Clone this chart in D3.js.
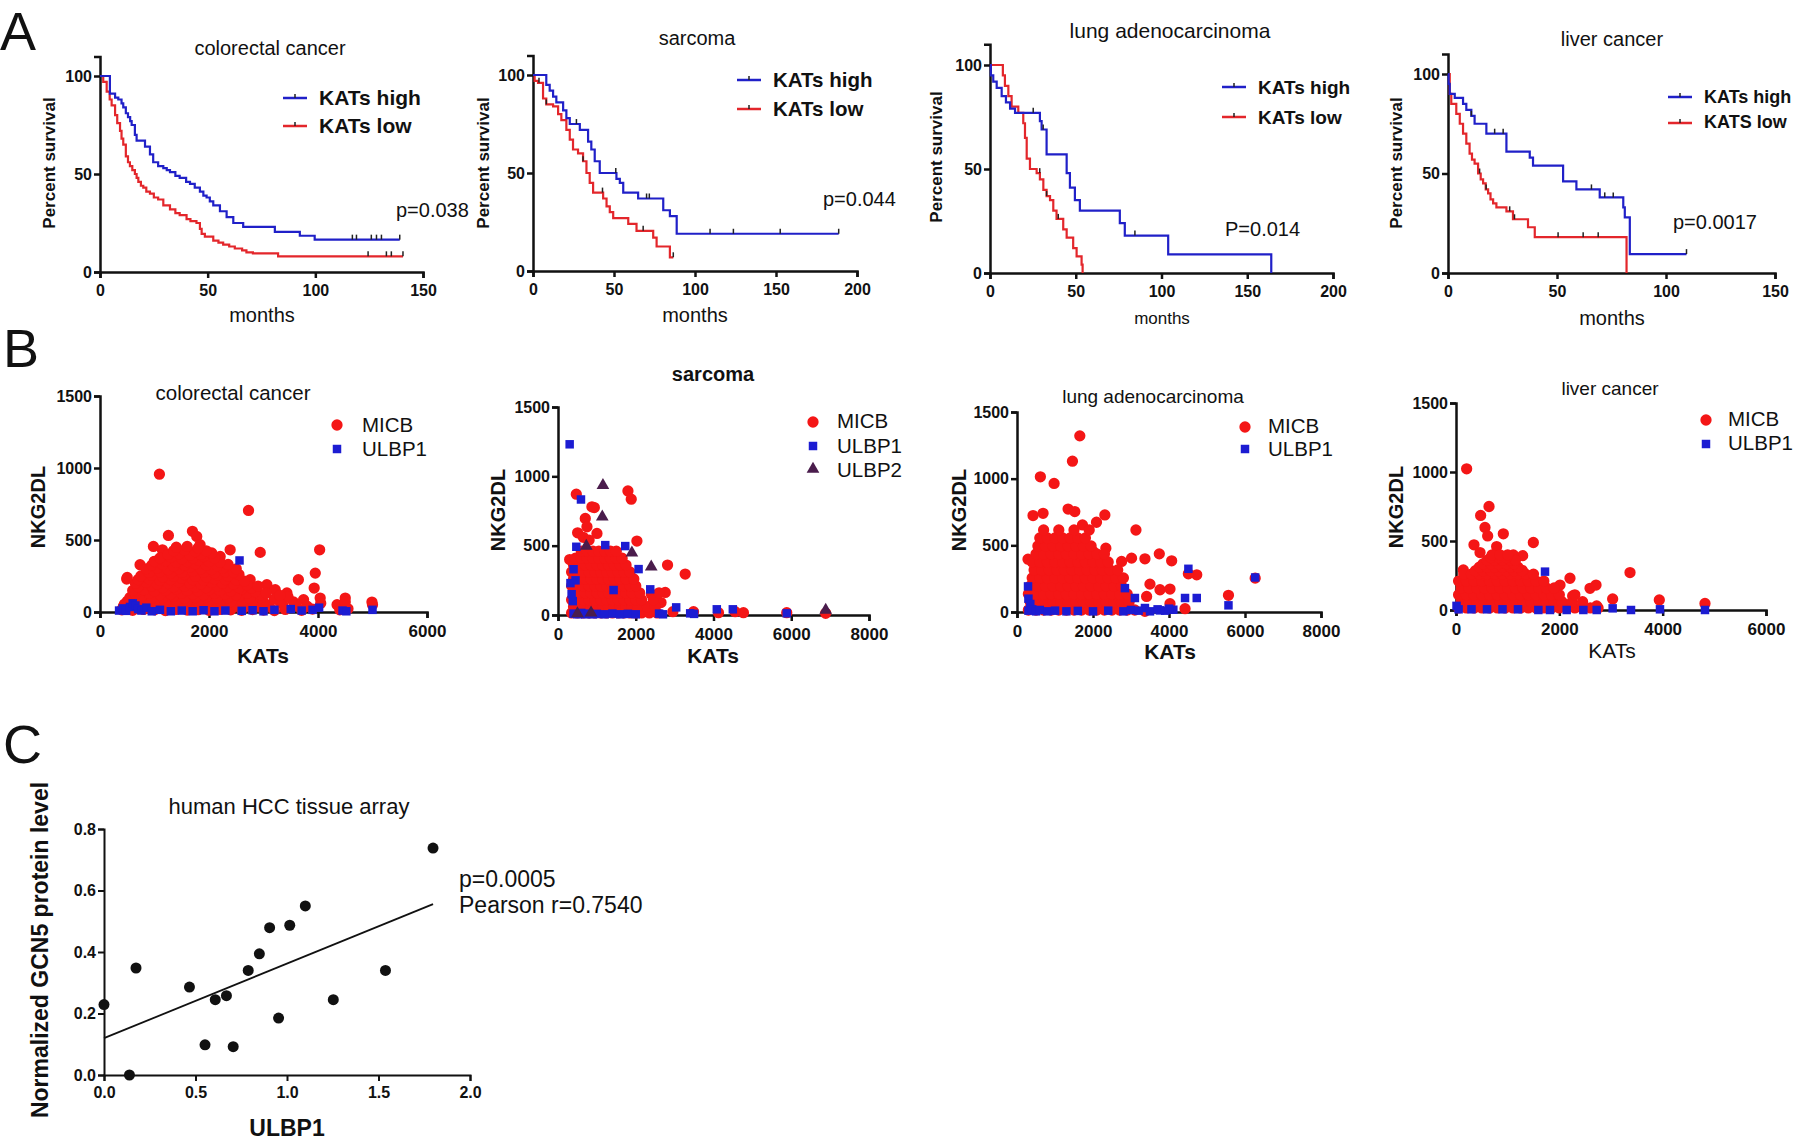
<!DOCTYPE html>
<html><head><meta charset="utf-8">
<script src="https://cdn.jsdelivr.net/npm/d3@7"></script>
<style>
body{margin:0;background:#fff;}
svg{display:block;}
</style></head><body>
<svg id="fig" width="1800" height="1143"></svg>
<script>
// ================= DATA =================
// Panel A: Kaplan-Meier curves, [months, percent survival after step]
const kmTitles = ["colorectal cancer","sarcoma","lung adenocarcinoma","liver cancer"];
const kmLegendLabels = [["KATs high","KATs low"],["KATs high","KATs low"],["KATs high","KATs low"],["KATs high","KATS low"]];
const kmPvalues = ["p=0.038","p=0.044","P=0.014","p=0.0017"];
const kmXTicks = [[0,50,100,150],[0,50,100,150,200],[0,50,100,150,200],[0,50,100,150]];
const kmYTicks = [0,50,100];

const crcHigh = [[0,100],[4.6,91],[7,89],[8.5,88],[10,86],[10.8,84],[12,81],[13,79],[14,77],[14.7,75],[16.2,70],[17,67],[20.9,64],[23.2,60],[24.7,56],[27,54],[29.4,53],[31,52],[32.5,51],[35,49],[37,48],[40,46],[41.8,45],[44,43],[46.4,41],[48,39],[49.5,38],[51,36],[52.6,34],[55.7,31],[58.8,28],[61.9,25],[66.5,23],[81.2,20.5],[92.8,18.5],[99.7,16.5],[139.2,16.5]];
const crcLow = [[0,100],[1.5,97],[3.1,92],[4.5,88],[5.4,85],[7,80],[8,76],[9.3,72],[10,68],[10.8,65],[12,59],[13,56],[13.9,54],[15,52],[16.2,50],[17,48],[17.8,46],[19,44],[20.1,43],[21.5,41],[23.2,40],[25,38],[27,37],[29.4,34],[32.5,32],[35,30],[37,29],[40.2,27],[42,26],[44.8,25],[46.4,22],[47.2,19.5],[48.7,18],[52.6,16],[55,15],[57.2,14],[60,13],[62.6,12],[66,11],[68,10],[71,9.5],[82.7,8],[140.7,8]];
const crcHighCens = [117.2,119.1,126,128.4,130.7,139.2];
const crcLowCens = [124.5,133,135.3,140.7];

const sarHigh = [[0,100],[8.2,95],[10.3,92],[12.4,89],[14.4,86],[18.6,82],[20.6,78],[22.7,75],[28.9,72],[34,66],[36,62],[38.1,56],[41.2,50],[51.5,47],[53.6,45],[55.7,40],[64.9,37],[80.4,31],[84.5,28],[88.7,19],[188.7,19]];
const sarLow = [[0,100],[1,97],[3.1,96],[6.2,88],[8.2,85],[12.4,84],[15.5,80],[17.5,77],[20.6,72],[22.7,67],[24.7,62],[27.8,60],[30.9,56],[33,50],[35,45],[37.1,40],[43.3,37],[45.4,33],[47.4,30],[49.5,27],[58.8,24],[63.9,20.5],[74.2,17],[76.3,12.5],[84.5,7],[86.6,7]];
const sarHighCens = [26.8,51.1,70.1,71.8,109.3,123.7,152.6,188.7];
const sarLowCens = [3.7,8.2,30.9,42.9,68,86.6];

const luadHigh = [[0,100],[0.5,95],[1.9,92],[3.9,89],[6.8,85],[9.3,82],[11.7,79],[14.6,77],[29.1,73],[30.1,69],[33,57],[44.7,48],[46.6,41],[49.5,35],[52.4,30],[75.7,24],[78.6,18],[103.9,9],[164,0]];
const luadLow = [[0,100],[7.5,95],[8.7,90],[10.7,85],[12.6,80],[16.5,77],[19.4,72],[20.4,65],[21.4,55],[23.3,50],[27.2,48],[29.1,45],[31.1,40],[33,37],[35,35],[36.9,30],[38.8,26],[42.7,21],[44.7,17],[48.5,12],[50.5,8],[53.4,4],[54,0]];
const luadHighCens = [25.2,31,84.5];
const luadLowCens = [29,33,39.8];

const livHigh = [[0,100],[0.3,95],[0.8,90],[3.1,88],[6.9,85],[8.4,82],[10.7,79],[12.2,75],[17.6,70],[26.8,61],[37.5,58],[39,54],[52.8,46],[58.9,42],[69.6,38],[80.4,33],[81.1,28],[83.4,9.5],[109.4,9.5]];
const livLow = [[0,100],[0.8,90],[1.5,85],[3.8,80],[5.4,75],[6.9,70],[8.4,65],[9.9,60],[11,57],[12.2,55],[13.8,50],[15,47],[16.1,45],[17.3,42],[18.4,40],[19.5,37],[20.7,35],[22.2,33],[26.8,31],[29.8,27],[36.7,23],[39.8,18],[81.9,0]];
const livHighCens = [10.7,21.4,25.3,65.8,71.9,75.8,109.4];
const livLowCens = [14.5,17.5,28.3,30.5,50.5,62,68.9];

// Panel B: scatter, [KATs, NKG2DL]
const scTitles = ["colorectal cancer","sarcoma","lung adenocarcinoma","liver cancer"];
const scXTicks = [[0,2000,4000,6000],[0,2000,4000,6000,8000],[0,2000,4000,6000,8000],[0,2000,4000,6000]];
const scYTicks = [0,500,1000,1500];
const scLegend = [["MICB","ULBP1"],["MICB","ULBP1","ULBP2"],["MICB","ULBP1"],["MICB","ULBP1"]];

const crcMICB = [[1090,957],[2725,705],[4030,432],[2940,414],[3640,224],[3950,270],[3930,166],[1255,532],[1696,560],[1775,525],[1837,467],[980,455],[1145,432],[995,351],[735,328],[490,229],[2388,432],[2205,386],[2755,224],[3062,190],[3215,155],[3430,132],[4040,97],[4500,97],[4350,51],[4990,69],[430,40],[3735,86],
[400,15],[600,12],[800,18],[1000,15],[1200,10],[1400,18],[1600,14],[1800,16],[2000,12],[2200,18],[2400,15],[2600,12],[2800,17],[3000,14],[3200,10],[3400,18],[3700,12],[3900,20],[4400,15],[4550,22],
[450,55],[700,48],[900,52],[1100,50],[1300,45],[1500,55],[1700,50],[1900,48],[2100,55],[2300,50],[2500,45],[2700,52],[2900,50],[3100,48],[3350,55],[3600,45],[3800,40],[4050,60],[4500,70],[5000,50],
[500,75],[800,78],[1000,72],[1200,75],[1400,80],[1600,75],[1800,72],[2000,78],[2200,75],[2400,72],[2600,78],[2800,75],[3000,70],[3300,72],[3550,70],
[550,100],[750,105],[950,95],[1150,100],[1350,110],[1550,95],[1750,100],[1950,105],[2150,95],[2350,100],[2550,110],[2750,95],[2950,100],[3200,90],[3450,105],
[650,125],[900,130],[1100,120],[1300,125],[1500,130],[1700,125],[1900,120],[2100,130],[2300,125],[2500,120],[2700,130],[2950,120],[3300,115],
[600,150],[800,155],[1000,145],[1200,150],[1400,160],[1600,150],[1800,145],[2000,155],[2200,150],[2400,145],[2600,160],[2850,140],[3050,130],
[700,175],[950,180],[1150,170],[1350,175],[1550,180],[1750,175],[1950,170],[2150,180],[2350,175],[2550,170],[2780,165],
[650,200],[850,205],[1050,195],[1250,200],[1450,210],[1650,200],[1850,195],[2050,205],[2250,200],[2450,195],[2700,190],[2900,180],
[700,225],[900,230],[1100,220],[1300,225],[1500,235],[1700,225],[1900,220],[2100,230],[2300,225],[2500,220],[2650,215],
[500,240],[750,250],[950,255],[1150,245],[1350,250],[1550,260],[1750,250],[1950,245],[2150,255],[2350,250],[2550,260],
[900,275],[1100,280],[1300,270],[1500,275],[1700,285],[1900,275],[2100,270],[2300,280],[2450,275],
[850,300],[1050,305],[1250,295],[1450,300],[1650,310],[1850,300],[2050,295],[2250,305],[2500,300],
[950,325],[1150,330],[1350,320],[1550,325],[1750,335],[1950,325],[2150,320],[2350,330],
[1000,350],[1200,355],[1400,345],[1600,350],[1800,360],[2000,350],[2200,345],
[1100,375],[1300,380],[1500,370],[1700,375],[1900,385],[2100,375],
[1250,400],[1450,405],[1650,395],[1850,400],[2050,410],
[1350,425],[1550,430],[1750,420],[1950,425],
[1400,450],[1600,455],[1800,445]];
const crcULBP1 = [[350,10],[420,25],[480,8],[550,35],[600,60],[650,45],[700,20],[760,10],[850,30],[950,5],[1100,15],[1300,5],[1500,10],[1700,5],[1900,12],[2100,5],[2300,10],[2560,358],[2600,8],[2800,12],[3000,5],[3200,15],[3500,20],[3700,10],[3900,15],[4020,30],[4450,10],[4520,5],[5000,15]];

const sarMICB = [[471,871],[934,775],[873,780],[1799,895],[1884,835],[505,593],[2030,533],[2818,360],[3272,295],[2758,163],[702,696],[745,636],[1002,588],[300,400],[4128,17],[4770,17],[5884,17],[6886,12],[3486,24],[4557,24],[2955,24],[2500,120],[2650,90],[2400,150],[650,560],[800,540],
[350,15],[500,15],[650,15],[800,15],[950,15],[1100,15],[1250,15],[1400,15],[1550,15],[1700,15],[1850,15],[2000,15],[2150,15],[2350,15],[2550,15],
[400,60],[550,60],[700,60],[850,60],[1000,60],[1150,60],[1300,60],[1450,60],[1600,60],[1750,60],[1900,60],[2050,60],[2300,60],[2500,60],
[350,110],[500,110],[650,110],[800,110],[950,110],[1100,110],[1250,110],[1400,110],[1550,110],[1700,110],[1850,110],[2000,110],[2150,110],[2450,110],
[400,160],[550,160],[700,160],[850,160],[1000,160],[1150,160],[1300,160],[1450,160],[1600,160],[1750,160],[1900,160],[2100,160],[2600,160],
[350,210],[500,210],[650,210],[800,210],[950,210],[1100,210],[1250,210],[1400,210],[1550,210],[1700,210],[1850,210],[2000,210],
[400,260],[550,260],[700,260],[850,260],[1000,260],[1150,260],[1300,260],[1450,260],[1600,260],[1750,260],[1950,260],
[350,310],[500,310],[650,310],[800,310],[950,310],[1100,310],[1250,310],[1400,310],[1550,310],[1700,310],[1850,310],
[400,360],[550,360],[700,360],[850,360],[1000,360],[1150,360],[1300,360],[1450,360],[1600,360],[1750,360],
[450,410],[600,410],[750,410],[900,410],[1050,410],[1200,410],[1350,410],[1500,410],[1650,410],
[600,460],[750,460],[900,460],[1050,460],[1200,460],[1350,460],[1500,460]];
const sarULBP1 = [[300,1231],[591,833],[471,492],[1730,497],[2073,331],[2373,185],[3040,55],[4085,41],[4497,41],[5884,12],[3400,12],[1430,180],[1216,504],[320,230],[350,150],[400,330],[450,250],[380,100],[400,10],[500,5],[600,15],[700,5],[800,10],[900,5],[1000,8],[1200,5],[1400,10],[1600,5],[1800,8],[2000,5],[2600,10],[2700,5],[3500,8]];
const sarULBP2 = [[1156,935],[1139,708],[1901,449],[2398,348],[728,497],[6886,36],[500,10],[850,15]];

const luadMICB = [[1653,1321],[1459,1131],[615,1014],[976,964],[2312,728],[2092,673],[3130,615],[1345,772],[1521,753],[422,723],[686,740],[1723,653],[3745,436],[4070,384],[3367,399],[2004,454],[2338,478],[2752,379],[3015,404],[3499,209],[3763,167],[4026,172],[3411,117],[4730,279],[4510,287],[5565,125],[6268,254],[4422,25],[4026,62],[3367,5],[290,396],
[300,15],[500,15],[700,15],[900,15],[1100,15],[1300,15],[1500,15],[1700,15],[1900,15],[2100,15],[2300,15],[2500,15],[2700,15],[2900,15],[3100,15],
[350,75],[550,75],[750,75],[950,75],[1150,75],[1350,75],[1550,75],[1750,75],[1950,75],[2150,75],[2350,75],[2550,75],[2750,75],[2950,75],
[300,135],[500,135],[700,135],[900,135],[1100,135],[1300,135],[1500,135],[1700,135],[1900,135],[2100,135],[2300,135],[2500,135],[2700,135],[2900,135],
[350,195],[550,195],[750,195],[950,195],[1150,195],[1350,195],[1550,195],[1750,195],[1950,195],[2150,195],[2350,195],[2550,195],[2750,195],
[400,255],[600,255],[800,255],[1000,255],[1200,255],[1400,255],[1600,255],[1800,255],[2000,255],[2200,255],[2400,255],[2600,255],[2800,255],
[450,315],[650,315],[850,315],[1050,315],[1250,315],[1450,315],[1650,315],[1850,315],[2050,315],[2250,315],[2450,315],[2650,315],
[400,375],[600,375],[800,375],[1000,375],[1200,375],[1400,375],[1600,375],[1800,375],[2000,375],[2200,375],[2400,375],
[500,435],[700,435],[900,435],[1100,435],[1300,435],[1500,435],[1700,435],[1900,435],[2100,435],[2300,435],
[550,495],[750,495],[950,495],[1150,495],[1350,495],[1550,495],[1750,495],[1950,495],
[600,555],[800,555],[1000,555],[1200,555],[1400,555],[1600,555],[1800,555],
[700,615],[1100,615],[1500,615],[1900,615]];
const luadULBP1 = [[4510,324],[4422,105],[4730,105],[5565,50],[6268,259],[2840,179],[3103,105],[290,192],[3763,12],[4114,17],[3367,30],[300,100],[350,60],[300,10],[400,20],[500,5],[600,15],[800,5],[1000,10],[1300,5],[1600,8],[2000,5],[2400,10],[2800,5],[3000,15],[3200,10],[3500,5],[3700,20],[3900,10],[4000,25]];

const livMICB = [[206,1023],[639,750],[477,685],[561,598],[613,537],[916,552],[348,472],[465,416],[787,460],[1497,489],[1290,394],[1110,399],[1284,286],[2206,230],[3368,271],[2258,102],[2594,157],[2710,181],[2723,29],[3032,80],[3935,73],[4819,48],[142,290],[2013,181],[1884,121],
[50,15],[200,15],[350,15],[500,15],[650,15],[800,15],[950,15],[1100,15],[1250,15],[1400,15],[1550,15],[1700,15],[1850,15],[2000,15],[2150,15],[2300,15],[2450,15],[2600,15],[2750,15],
[100,60],[250,60],[400,60],[550,60],[700,60],[850,60],[1000,60],[1150,60],[1300,60],[1450,60],[1600,60],[1750,60],[1900,60],[2050,60],[2250,60],[2450,60],
[50,110],[200,110],[350,110],[500,110],[650,110],[800,110],[950,110],[1100,110],[1250,110],[1400,110],[1550,110],[1700,110],[1850,110],[2000,110],[2300,110],
[100,160],[250,160],[400,160],[550,160],[700,160],[850,160],[1000,160],[1150,160],[1300,160],[1450,160],[1600,160],[1750,160],[1900,160],
[50,210],[200,210],[350,210],[500,210],[650,210],[800,210],[950,210],[1100,210],[1250,210],[1400,210],[1550,210],[1700,210],
[150,260],[300,260],[450,260],[600,260],[750,260],[900,260],[1050,260],[1200,260],[1350,260],[1500,260],
[375,285],[525,285],[675,285],[825,285],[975,285],[1125,285],[1275,285],
[450,310],[600,310],[750,310],[900,310],[1050,310],[1200,310],
[525,335],[675,335],[825,335],[975,335],[1125,335],
[600,360],[750,360],[900,360],[1050,360],[1150,360],
[675,380],[825,380],[975,380],
[700,400],[850,400],[1000,400]];
const livULBP1 = [[10,30],[50,5],[300,5],[600,5],[900,5],[1200,5],[1594,0],[1819,0],[2142,0],[2465,0],[2723,0],[3032,12],[3387,0],[3948,5],[4819,0],[1723,278]];

// Panel C
const cTitle = "human HCC tissue array";
const ulbp1Level = [0,0.139,0.175,0.467,0.552,0.608,0.669,0.706,0.788,0.849,0.905,0.954,1.015,1.100,1.253,1.538,1.798];
const gcn5Level = [0.229,0,0.348,0.286,0.098,0.245,0.258,0.092,0.340,0.394,0.479,0.185,0.487,0.550,0.245,0.340,0.738];
const cXTicks = [0,0.5,1.0,1.5,2.0];
const cYTicks = [0,0.2,0.4,0.6,0.8];
const cStats = ["p=0.0005","Pearson r=0.7540"];

// ================= DRAWING =================
const FONT = '"Liberation Sans", Arial, Helvetica, sans-serif';
const INK = "#111";
const KM_BLUE = "#2020c8", KM_RED = "#e3262b";
const SC_RED = "#f41616", SC_BLUE = "#1c1cd2", SC_PURPLE = "#4a1c4c";
const svg = d3.select("#fig").attr("font-family", FONT);

function txt(x, y, s, o = {}) {
  const t = svg.append("text").attr("x", x).attr("y", y).text(s)
    .attr("font-size", o.size || 16).attr("font-weight", o.bold ? "bold" : "normal")
    .attr("text-anchor", o.anchor || "start").attr("fill", INK);
  if (o.rotate) t.attr("transform", `rotate(-90,${x},${y})`);
  return t;
}
function styleAxis(g, sw, fs) {
  g.attr("font-family", FONT).attr("font-size", fs);
  g.selectAll("path.domain").attr("stroke", INK).attr("stroke-width", sw);
  g.selectAll(".tick line").attr("stroke", INK).attr("stroke-width", sw);
  g.selectAll(".tick text").attr("font-weight", "bold").attr("fill", INK);
}
const intFmt = d3.format("d");

// panel letters
txt(0, 50, "A", {size: 54});
txt(3, 367, "B", {size: 54});
txt(3, 763, "C", {size: 54});

// ---- Panel A ----
const kmLayout = [
 {x0:100,x1:423,y0:272,y100:76,xMax:150,tX:270,tY:55,tS:20,lX:283,lY:[98,126],lB:[105,133],lS:21,pX:396,pY:217,mX:262,mY:322,mS:20,yX:55,yY:163},
 {x0:533,x1:857,y0:271,y100:75,xMax:200,tX:697,tY:45,tS:20,lX:737,lY:[80,109],lB:[87,116],lS:20.5,pX:823,pY:206,mX:695,mY:322,mS:20,yX:489,yY:163},
 {x0:990,x1:1333,y0:273,y100:65,xMax:200,tX:1170,tY:38,tS:21,lX:1222,lY:[87,117],lB:[94,124],lS:19,pX:1225,pY:236,mX:1162,mY:324,mS:17,yX:942,yY:157},
 {x0:1448,x1:1775,y0:273,y100:74,xMax:150,tX:1612,tY:46,tS:20,lX:1668,lY:[97,123],lB:[103,128],lS:18,pX:1673,pY:229,mX:1612,mY:325,mS:20,yX:1402,yY:163}
];
const kmCurves = [
  [crcHigh, crcLow, crcHighCens, crcLowCens],
  [sarHigh, sarLow, sarHighCens, sarLowCens],
  [luadHigh, luadLow, luadHighCens, luadLowCens],
  [livHigh, livLow, livHighCens, livLowCens]
];

function survAt(curve, t) {
  let s = curve[0][1];
  for (const [ti, si] of curve) { if (ti <= t) s = si; else break; }
  return s;
}

kmLayout.forEach((L, i) => {
  const x = d3.scaleLinear().domain([0, L.xMax]).range([L.x0, L.x1]);
  const pxPer = (L.y0 - L.y100) / 100;
  const y = d3.scaleLinear().domain([0, 110]).range([L.y0, L.y0 - 110 * pxPer]);
  const gx = svg.append("g").attr("transform", `translate(0,${L.y0})`)
    .call(d3.axisBottom(x).tickValues(kmXTicks[i]).tickFormat(intFmt).tickSizeOuter(0).tickSize(6).tickPadding(7));
  styleAxis(gx, 2.5, 16);
  const gy = svg.append("g").attr("transform", `translate(${L.x0},0)`)
    .call(d3.axisLeft(y).tickValues(kmYTicks).tickFormat(intFmt).tickSizeOuter(0).tickSize(6).tickPadding(2));
  styleAxis(gy, 2.5, 16);

  const [hi, lo, hiC, loC] = kmCurves[i];
  const line = d3.line().x(d => x(d[0])).y(d => y(d[1])).curve(d3.curveStepAfter);
  [[lo, loC, KM_RED], [hi, hiC, KM_BLUE]].forEach(([c, cens, col]) => {
    svg.append("path").datum(c).attr("d", line).attr("fill", "none")
      .attr("stroke", col).attr("stroke-width", 2.2);
    svg.append("g").selectAll("line").data(cens).join("line")
      .attr("x1", d => x(d)).attr("x2", d => x(d))
      .attr("y1", d => y(survAt(c, d))).attr("y2", d => y(survAt(c, d)) - 5)
      .attr("stroke", "#222").attr("stroke-width", 1.5);
  });

  txt(L.tX, L.tY, kmTitles[i], {size: L.tS, anchor: "middle"});
  [KM_BLUE, KM_RED].forEach((col, k) => {
    svg.append("line").attr("x1", L.lX).attr("x2", L.lX + 24)
      .attr("y1", L.lY[k]).attr("y2", L.lY[k]).attr("stroke", col).attr("stroke-width", 2.5);
    svg.append("line").attr("x1", L.lX + 12).attr("x2", L.lX + 12)
      .attr("y1", L.lY[k]).attr("y2", L.lY[k] - 4).attr("stroke", "#222").attr("stroke-width", 1.5);
    txt(L.lX + 36, L.lB[k], kmLegendLabels[i][k], {size: L.lS, bold: true});
  });
  txt(L.pX, L.pY, kmPvalues[i], {size: 20});
  txt(L.mX, L.mY, "months", {size: L.mS, anchor: "middle"});
  txt(L.yX, L.yY, "Percent survival", {size: 17, bold: true, anchor: "middle", rotate: true});
});

// ---- Panel B ----
const scLayout = [
 {x0:100,x1:427,y0:612,yT:396,xMax:6000,tX:233,tY:400,tS:20.5,tB:false,mX:337,tx:362,ys:[425,449],bs:[432,456],kX:263,kY:663,kB:true,nX:45,nY:507},
 {x0:558,x1:869,y0:615,yT:407,xMax:8000,tX:713,tY:381,tS:20,tB:true,mX:813,tx:837,ys:[422,446,469],bs:[428,453,477],kX:713,kY:663,kB:true,nX:505,nY:510},
 {x0:1017,x1:1321,y0:612,yT:412,xMax:8000,tX:1153,tY:403,tS:19,tB:false,mX:1245,tx:1268,ys:[427,449],bs:[433,456],kX:1170,kY:659,kB:true,nX:966,nY:510},
 {x0:1456,x1:1766,y0:610,yT:403,xMax:6000,tX:1610,tY:395,tS:19,tB:false,mX:1706,tx:1728,ys:[420,444],bs:[426,450],kX:1612,kY:658,kB:false,nX:1403,nY:507}
];
const scSeries = [
  [crcMICB, crcULBP1],
  [sarMICB, sarULBP1, sarULBP2],
  [luadMICB, luadULBP1],
  [livMICB, livULBP1]
];
const markerDefs = [
  {type: d3.symbolCircle, size: 100, color: SC_RED},
  {type: d3.symbolSquare, size: 72, color: SC_BLUE},
  {type: d3.symbolTriangle, size: 70, color: SC_PURPLE}
];

scLayout.forEach((L, i) => {
  const x = d3.scaleLinear().domain([0, L.xMax]).range([L.x0, L.x1]);
  const y = d3.scaleLinear().domain([0, 1500]).range([L.y0, L.yT]);
  const gx = svg.append("g").attr("transform", `translate(0,${L.y0})`)
    .call(d3.axisBottom(x).tickValues(scXTicks[i]).tickFormat(intFmt).tickSizeOuter(0).tickSize(6).tickPadding(7));
  styleAxis(gx, 2.5, 17);
  const gy = svg.append("g").attr("transform", `translate(${L.x0},0)`)
    .call(d3.axisLeft(y).tickValues(scYTicks).tickFormat(intFmt).tickSizeOuter(0).tickSize(6).tickPadding(2));
  styleAxis(gy, 2.5, 16);

  scSeries[i].forEach((pts, k) => {
    const m = markerDefs[k];
    const sym = d3.symbol().type(m.type).size(m.size);
    svg.append("g").selectAll("path").data(pts).join("path")
      .attr("d", sym).attr("fill", m.color)
      .attr("transform", d => `translate(${x(d[0])},${y(d[1])})`);
    svg.append("path").attr("d", sym).attr("fill", m.color)
      .attr("transform", `translate(${L.mX},${L.ys[k]})`);
    txt(L.tx, L.bs[k], scLegend[i][k], {size: 20.5});
  });

  txt(L.tX, L.tY, scTitles[i], {size: L.tS, bold: L.tB, anchor: "middle"});
  txt(L.kX, L.kY, "KATs", {size: 21, bold: L.kB, anchor: "middle"});
  txt(L.nX, L.nY, "NKG2DL", {size: 20, bold: true, anchor: "middle", rotate: true});
});

// ---- Panel C ----
(function () {
  const x = d3.scaleLinear().domain([0, 2]).range([104, 470]);
  const y = d3.scaleLinear().domain([0, 0.8]).range([1075, 829]);
  const gx = svg.append("g").attr("transform", `translate(0,1075)`)
    .call(d3.axisBottom(x).tickValues(cXTicks).tickFormat(d3.format(".1f")).tickSizeOuter(0).tickSize(6).tickPadding(6));
  styleAxis(gx, 2, 16);
  const gy = svg.append("g").attr("transform", `translate(104,0)`)
    .call(d3.axisLeft(y).tickValues(cYTicks).tickFormat(d3.format(".1f")).tickSizeOuter(0).tickSize(6).tickPadding(2));
  styleAxis(gy, 2, 16);

  const mx = d3.mean(ulbp1Level), my = d3.mean(gcn5Level);
  let sxy = 0, sxx = 0;
  ulbp1Level.forEach((v, j) => { sxy += (v - mx) * (gcn5Level[j] - my); sxx += (v - mx) * (v - mx); });
  const slope = sxy / sxx, icpt = my - slope * mx;
  const xEnd = d3.max(ulbp1Level);
  svg.append("line").attr("x1", x(0)).attr("y1", y(icpt))
    .attr("x2", x(xEnd)).attr("y2", y(icpt + slope * xEnd))
    .attr("stroke", INK).attr("stroke-width", 1.8);

  svg.append("g").selectAll("circle").data(ulbp1Level).join("circle")
    .attr("cx", d => x(d)).attr("cy", (d, j) => y(gcn5Level[j])).attr("r", 5.5).attr("fill", INK);

  txt(289, 814, cTitle, {size: 22, anchor: "middle"});
  txt(459, 887, cStats[0], {size: 23});
  txt(459, 913, cStats[1], {size: 23});
  txt(287, 1136, "ULBP1", {size: 23, bold: true, anchor: "middle"});
  txt(48, 950, "Normalized GCN5 protein level", {size: 23, bold: true, anchor: "middle", rotate: true});
})();
</script>
</body></html>
